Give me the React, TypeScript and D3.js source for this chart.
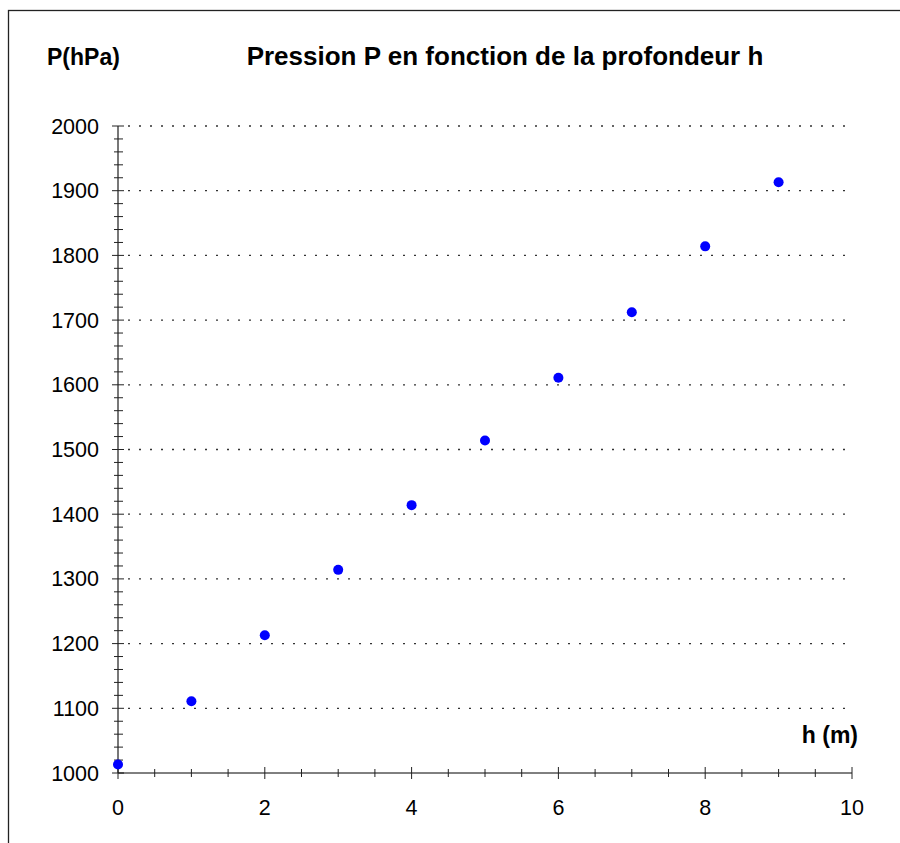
import React, { useEffect, useRef } from 'react';
import * as d3 from 'd3';

const depths = [0, 1, 2, 3, 4, 5, 6, 7, 8, 9];
const pressures = [1013, 1111, 1213, 1314, 1414, 1514, 1611, 1712, 1814, 1913];
const xTicks = [0, 2, 4, 6, 8, 10];
const yTicks = [1000, 1100, 1200, 1300, 1400, 1500, 1600, 1700, 1800, 1900, 2000];

const App: React.FC = () => {
  const svgRef = useRef<SVGSVGElement>(null);

  useEffect(() => {
    document.body.style.margin = '0';
    if (!svgRef.current) return;
    const svg = d3.select(svgRef.current);
    svg.selectAll('*').remove();

    const width = 900;
    const height = 843;
    const font = "'Liberation Sans', Arial, sans-serif";

    const x = d3.scaleLinear().domain([0, 10]).range([118, 852]);
    const y = d3.scaleLinear().domain([1000, 2000]).range([773, 126]);

    svg.attr('width', width).attr('height', height).style('display', 'block');

    svg.append('rect')
      .attr('x', 8.5).attr('y', 10.5)
      .attr('width', 1000).attr('height', 1000)
      .attr('fill', 'white')
      .attr('stroke', '#222')
      .attr('stroke-width', 1.3);

    // dotted horizontal gridlines
    svg.append('g')
      .selectAll('line')
      .data(yTicks.slice(1))
      .join('line')
      .attr('x1', x(0) + 10).attr('x2', x(10))
      .attr('y1', d => y(d)).attr('y2', d => y(d))
      .attr('stroke', '#333')
      .attr('stroke-width', 1.3)
      .attr('stroke-dasharray', '2,9');

    // y axis
    const yMinor = d3.range(1000, 2001, 20).filter(v => v % 100 !== 0);
    const gy = svg.append('g');
    gy.append('line')
      .attr('x1', x(0)).attr('x2', x(0))
      .attr('y1', y(2000)).attr('y2', y(1000))
      .attr('stroke', '#555').attr('stroke-width', 1.6);
    gy.selectAll('line.minor')
      .data(yMinor)
      .join('line')
      .attr('class', 'minor')
      .attr('x1', x(0) - 4).attr('x2', x(0) + 5)
      .attr('y1', d => y(d)).attr('y2', d => y(d))
      .attr('stroke', '#222');
    gy.selectAll('line.major')
      .data(yTicks)
      .join('line')
      .attr('class', 'major')
      .attr('x1', x(0) - 6).attr('x2', x(0) + 6)
      .attr('y1', d => y(d)).attr('y2', d => y(d))
      .attr('stroke', '#222');
    gy.selectAll('text')
      .data(yTicks)
      .join('text')
      .attr('x', 99)
      .attr('y', d => y(d) + 7.5)
      .attr('text-anchor', 'end')
      .style('font', `21.5px ${font}`)
      .text(d => d);

    // x axis
    const xMinor = d3.range(0, 10.01, 0.5).filter(v => v % 2 !== 0);
    const gx = svg.append('g');
    gx.append('line')
      .attr('x1', x(0)).attr('x2', x(10))
      .attr('y1', y(1000)).attr('y2', y(1000))
      .attr('stroke', '#000');
    gx.selectAll('line.minor')
      .data(xMinor)
      .join('line')
      .attr('class', 'minor')
      .attr('x1', d => x(d)).attr('x2', d => x(d))
      .attr('y1', y(1000) - 4).attr('y2', y(1000) + 4)
      .attr('stroke', '#222');
    gx.selectAll('line.major')
      .data(xTicks)
      .join('line')
      .attr('class', 'major')
      .attr('x1', d => x(d)).attr('x2', d => x(d))
      .attr('y1', y(1000) - 6).attr('y2', y(1000) + 6)
      .attr('stroke', '#222');
    gx.selectAll('text')
      .data(xTicks)
      .join('text')
      .attr('x', d => x(d))
      .attr('y', 815)
      .attr('text-anchor', 'middle')
      .style('font', `21.5px ${font}`)
      .text(d => d);

    // points
    svg.append('g')
      .selectAll('circle')
      .data(depths)
      .join('circle')
      .attr('cx', d => x(d))
      .attr('cy', (d, i) => y(pressures[i]))
      .attr('r', 5)
      .attr('fill', '#0000ff');

    // titles
    svg.append('text')
      .attr('x', 505).attr('y', 65)
      .attr('text-anchor', 'middle')
      .style('font', `bold 26px ${font}`)
      .text('Pression P en fonction de la profondeur h');
    svg.append('text')
      .attr('x', 47).attr('y', 65)
      .style('font', `bold 23px ${font}`)
      .text('P(hPa)');
    svg.append('text')
      .attr('x', 858).attr('y', 743)
      .attr('text-anchor', 'end')
      .style('font', `bold 23px ${font}`)
      .text('h (m)');
  }, []);

  return <svg ref={svgRef} />;
};

export default App;
